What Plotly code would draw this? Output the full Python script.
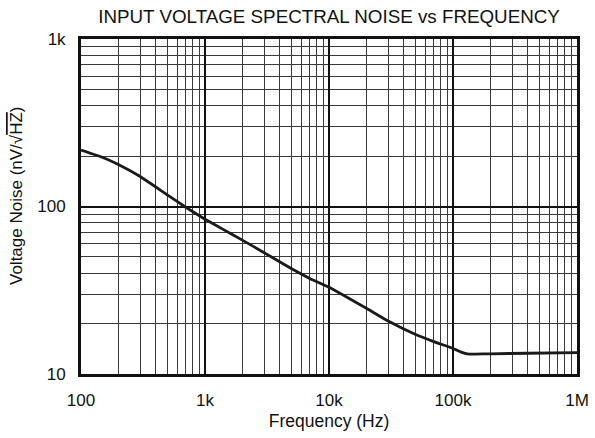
import plotly.graph_objects as go

freq_hz = [100, 150, 200, 300, 500, 700, 1000, 1400, 2000, 3000, 5000, 7000, 10000,
           20000, 30000, 50000, 70000, 100000, 115000, 130000, 150000, 200000, 400000, 1000000]
noise_nv = [217, 196, 178, 151, 117, 99, 84, 73, 63, 53, 42.5, 37.2, 33.0,
            24.7, 20.7, 17.2, 15.6, 14.2, 13.55, 13.2, 13.15, 13.2, 13.3, 13.4]

x_tickvals = [100, 1000, 10000, 100000, 1000000]
x_ticktext = ["100", "1k", "10k", "100k", "1M"]
y_tickvals = [10, 100, 1000]
y_ticktext = ["10", "100", "1k"]

fig = go.Figure()
fig.add_trace(go.Scatter(x=freq_hz, y=noise_nv, mode="lines",
                         line=dict(color="#1a1a1a", width=2.8, shape="spline", smoothing=0.3),
                         showlegend=False, hoverinfo="skip"))

font = dict(family="Liberation Sans, Arial, sans-serif", size=17, color="#111")

L, R, T, B = 81, 18, 39, 64
W, H = 595, 438
pw, ph = W - L - R, H - T - B

fig.update_layout(
    width=W, height=H,
    margin=dict(l=L, r=R, t=T, b=B),
    paper_bgcolor="white", plot_bgcolor="white",
    font=font,
    title=dict(text="INPUT VOLTAGE SPECTRAL NOISE vs FREQUENCY", x=0.553, xanchor="center",
               y=1 - 16.5 / H, yanchor="middle", font=dict(size=18.8), automargin=False),
    xaxis=dict(type="log", range=[2, 6], tickvals=x_tickvals, ticktext=x_ticktext,
               showgrid=True, gridcolor="#111", gridwidth=2,
               minor=dict(dtick="D1", showgrid=True, gridcolor="#3a3a3a", gridwidth=1, ticks=""),
               showline=True, linecolor="#111", linewidth=3, mirror=True,
               ticks="outside", ticklen=9, tickcolor="rgba(0,0,0,0)", zeroline=False,
               automargin=False, tickfont=dict(size=17),
               title=dict(text="Frequency (Hz)", standoff=6, font=dict(size=17.5))),
    yaxis=dict(type="log", range=[1, 3], tickvals=y_tickvals, ticktext=y_ticktext,
               showgrid=True, gridcolor="#111", gridwidth=2,
               minor=dict(dtick="D1", showgrid=True, gridcolor="#3a3a3a", gridwidth=1, ticks=""),
               showline=True, linecolor="#111", linewidth=3, mirror=True,
               ticks="outside", ticklen=9, tickcolor="rgba(0,0,0,0)", zeroline=False,
               automargin=False, tickfont=dict(size=17)),
    annotations=[dict(text="Voltage Noise (nV/√<span style='text-decoration:overline'>HZ</span>)",
                      textangle=-90, xref="paper", yref="paper",
                      x=(17 - L) / pw, y=(H - B - 196) / ph, xanchor="center", yanchor="middle",
                      showarrow=False, font=dict(size=17))],
)

fig.write_html("out.html", config={"displayModeBar": False},
               post_script="document.body.style.margin='0';document.body.style.padding='0';")
